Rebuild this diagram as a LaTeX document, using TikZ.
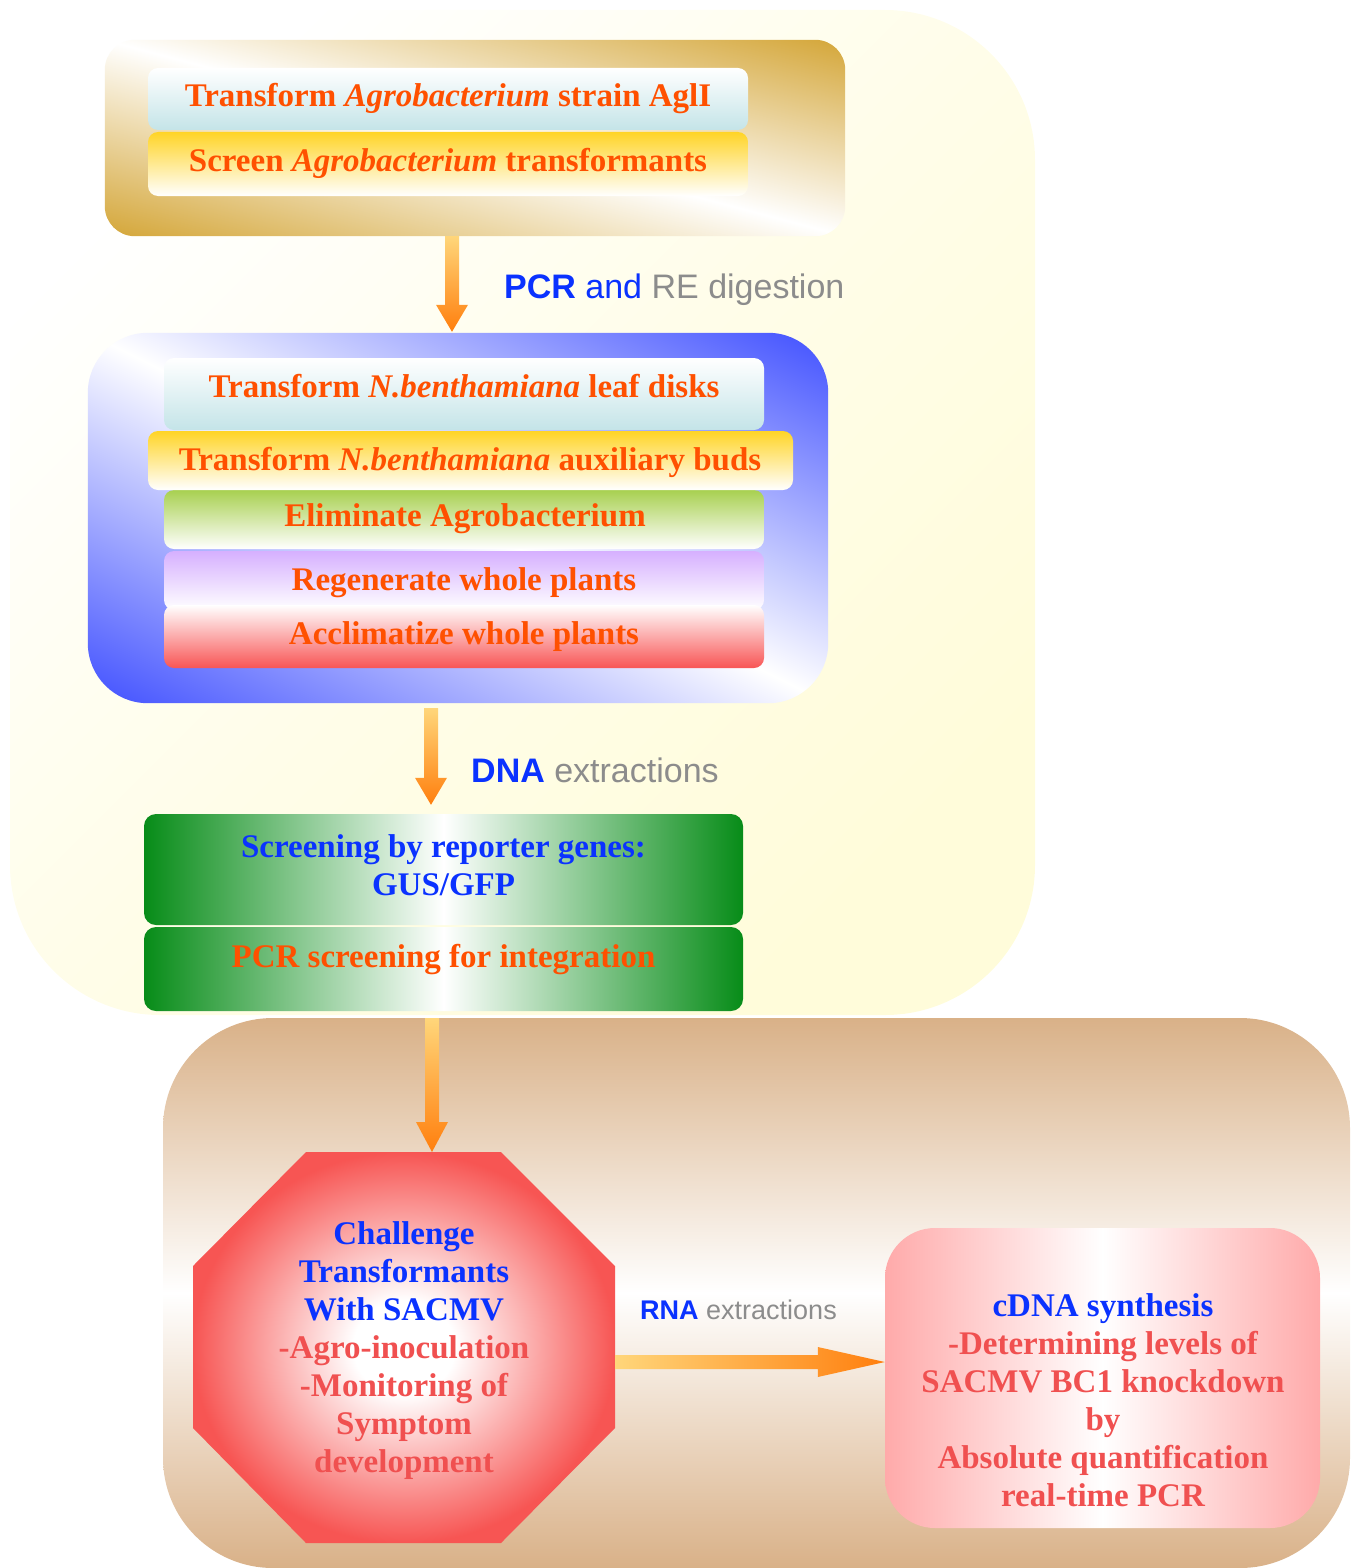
\documentclass[tikz,border=0pt]{standalone}
\usepackage{fontspec}
\setmainfont{Liberation Serif}
\newfontfamily\labelsans{Liberation Sans}
\usetikzlibrary{calc}
\definecolor{bgyellow}{RGB}{255,252,218}
\definecolor{framegold}{RGB}{212,166,56}
\definecolor{frameblue}{RGB}{64,80,255}
\definecolor{lightcyan}{RGB}{196,228,232}
\definecolor{boxyellow}{RGB}{255,212,38}
\definecolor{boxgreen}{RGB}{168,208,80}
\definecolor{boxpurple}{RGB}{214,176,255}
\definecolor{boxred}{RGB}{248,85,85}
\definecolor{darkgreen}{RGB}{7,140,24}
\definecolor{regiontan}{RGB}{217,177,136}
\definecolor{octred}{RGB}{247,85,83}
\definecolor{pinkbox}{RGB}{255,170,170}
\definecolor{arrowlight}{RGB}{255,214,122}
\definecolor{arroworange}{RGB}{255,127,14}
\definecolor{txtorange}{RGB}{255,80,0}
\definecolor{txtblue}{RGB}{10,50,255}
\definecolor{txtgray}{RGB}{140,140,140}
\definecolor{txtred}{RGB}{240,80,80}
\pgfdeclareradialshading{octshading}{\pgfpoint{0bp}{0bp}}{color(0bp)=(white); color(6bp)=(white); color(25bp)=(octred); color(50bp)=(octred)}
\tikzset{
  stagebox/.style={rectangle, rounded corners=10pt, inner sep=0pt, draw=none},
  framebox/.style={rectangle, inner sep=0pt, draw=none},
  serifline/.style={inner sep=0pt, text height=22pt, text depth=0pt, font=\fontsize{33}{38}\selectfont\bfseries, text=txtorange},
  multiline/.style={inner sep=0pt, align=center, anchor=north, font=\fontsize{33}{38}\selectfont\bfseries},
  sanslbl/.style={inner sep=0pt, anchor=west, text height=24pt, text depth=0pt, font=\labelsans\fontsize{34}{38}\selectfont, text=txtgray},
  vshade/.style={top color=arrowlight, bottom color=arroworange},
  hshade/.style={left color=arrowlight, right color=arroworange}
}
\begin{document}
\begin{tikzpicture}[x=1pt,y=-1pt]
\useasboundingbox (0,0) rectangle (1356,1568);
% background regions
\shade[top color=white, bottom color=bgyellow, middle color=bgyellow!60!white, shading angle=45, rounded corners=150pt] (10,10) rectangle (1035,1015);
\shade[top color=regiontan, bottom color=regiontan, middle color=white, rounded corners=110pt] (163,1018) rectangle (1350,1568);

% frame 1 (diagonal shading along the box diagonal)
\node[framebox, minimum width=740pt, minimum height=196pt] (b1) at (475,138) {};
\begin{scope}
  \clip[rounded corners=30pt] (b1.south west) rectangle (b1.north east);
  \shade[transform canvas={cm={370,-98,370,98,(b1.center)}}, top color=framegold, bottom color=framegold, middle color=white] (-1,-1) rectangle (1,1);
\end{scope}
\node[stagebox, minimum width=600pt, minimum height=62pt, top color=white, bottom color=lightcyan] (b1a) at (448,99) {};
\node[stagebox, minimum width=600pt, minimum height=64pt, top color=boxyellow, bottom color=white] (b1b) at (448,164) {};
\node[serifline] (t1) at (448,96) {Transform \textit{Agrobacterium} strain AglI};
\node[serifline] (t2) at (448,160) {Screen \textit{Agrobacterium} transformants};

% frame 2
\node[framebox, minimum width=740pt, minimum height=370pt] (b2) at (458,518) {};
\begin{scope}
  \clip[rounded corners=60pt] (b2.south west) rectangle (b2.north east);
  \shade[transform canvas={cm={370,-185,370,185,(b2.center)}}, top color=frameblue, bottom color=frameblue, middle color=white] (-1,-1) rectangle (1,1);
\end{scope}
\node[stagebox, minimum width=600pt, minimum height=72pt, top color=white, bottom color=lightcyan] (b2a) at (464,394) {};
\node[stagebox, minimum width=600pt, minimum height=59pt, top color=boxgreen, bottom color=white] (b2c) at (464,519.5) {};
\node[stagebox, minimum width=600pt, minimum height=59pt, top color=boxpurple, bottom color=white] (b2d) at (464,580.5) {};
\node[stagebox, minimum width=600pt, minimum height=63pt, top color=white, bottom color=boxred] (b2e) at (464,636.5) {};
\node[stagebox, minimum width=645pt, minimum height=59pt, top color=boxyellow, bottom color=white] (b2b) at (470.5,460.5) {};
\node[serifline] (t3) at (464,386) {Transform \textit{N.benthamiana} leaf disks};
\node[serifline] (t4) at (470,459) {Transform \textit{N.benthamiana} auxiliary buds};
\node[serifline] (t5) at (465,515) {Eliminate Agrobacterium};
\node[serifline] (t6) at (464,579) {Regenerate whole plants};
\node[serifline] (t7) at (464,633) {Acclimatize whole plants};

% green boxes
\node[stagebox, rounded corners=12pt, minimum width=599pt, minimum height=111pt, left color=darkgreen, right color=darkgreen, middle color=white] (g1) at (443.5,869.5) {};
\node[stagebox, rounded corners=12pt, minimum width=599pt, minimum height=84pt, left color=darkgreen, right color=darkgreen, middle color=white] (g2) at (443.5,969) {};
\node[multiline, text=txtblue] (t8) at (443.5,834) {Screening by reporter genes:\\GUS/GFP};
\node[serifline] (t9) at (443.5,956) {PCR screening for integration};

% octagon
\shade[shading=octshading] (306,1152) -- (501,1152) -- (615,1266) -- (615,1428) -- (501,1543) -- (306,1543) -- (193,1428) -- (193,1266) -- cycle;
\coordinate (octtop) at (432,1152);
\coordinate (octright) at (615,1362);
\node[multiline] (t10) at (404,1221) {\textcolor{txtblue}{Challenge}\\\textcolor{txtblue}{Transformants}\\\textcolor{txtblue}{With SACMV}\\\textcolor{txtred}{-Agro-inoculation}\\\textcolor{txtred}{-Monitoring of}\\\textcolor{txtred}{Symptom}\\\textcolor{txtred}{development}};

% right box
\node[stagebox, rounded corners=50pt, minimum width=435pt, minimum height=300pt, left color=pinkbox, right color=pinkbox, middle color=white] (rb) at (1102.5,1378) {};
\node[multiline] (t11) at (1103,1293) {\textcolor{txtblue}{cDNA synthesis}\\\textcolor{txtred}{-Determining levels of}\\\textcolor{txtred}{SACMV BC1 knockdown}\\\textcolor{txtred}{by}\\\textcolor{txtred}{Absolute quantification}\\\textcolor{txtred}{real-time PCR}};

% arrows
\coordinate (a1s) at ($(b1.south)+(-23,0)$);
\coordinate (a1e) at ($(b2.north)+(-6,-1)$);
\shade[vshade] ($(a1s)+(-7,0)$) -- ($(a1e)+(-7,-27)$) -- ($(a1e)+(-16,-27)$) -- (a1e) -- ($(a1e)+(16,-27)$) -- ($(a1e)+(7,-27)$) -- ($(a1s)+(7,0)$) -- cycle;

\coordinate (a2s) at ($(b2.south)+(-27,5)$);
\coordinate (a2e) at ($(g1.north)+(-12.5,-9)$);
\shade[vshade] ($(a2s)+(-7,0)$) -- ($(a2e)+(-7,-27)$) -- ($(a2e)+(-16,-27)$) -- (a2e) -- ($(a2e)+(16,-27)$) -- ($(a2e)+(7,-27)$) -- ($(a2s)+(7,0)$) -- cycle;

\coordinate (a3s) at ($(g2.south)+(-11.5,7)$);
\shade[vshade] ($(a3s)+(-7,0)$) -- ($(octtop)+(-7,-30)$) -- ($(octtop)+(-16,-30)$) -- (octtop) -- ($(octtop)+(16,-30)$) -- ($(octtop)+(7,-30)$) -- ($(a3s)+(7,0)$) -- cycle;

\coordinate (a4e) at (rb.west |- octright);
\shade[hshade] ($(octright)+(0,-7)$) -- ($(a4e)+(-67,-7)$) -- ($(a4e)+(-67,-15)$) -- (a4e) -- ($(a4e)+(-67,15)$) -- ($(a4e)+(-67,7)$) -- ($(octright)+(0,7)$) -- cycle;

% labels
\node[sanslbl] (l1) at (504,286) {\textcolor{txtblue}{\bfseries PCR} \textcolor{txtblue}{and} RE digestion};
\node[sanslbl] (l2) at (471,770) {\textcolor{txtblue}{\bfseries DNA} extractions};
\node[sanslbl, text height=19pt, font=\labelsans\fontsize{27}{32}\selectfont] (l3) at (640,1310) {\textcolor{txtblue}{\bfseries RNA} extractions};
\end{tikzpicture}
\end{document}
